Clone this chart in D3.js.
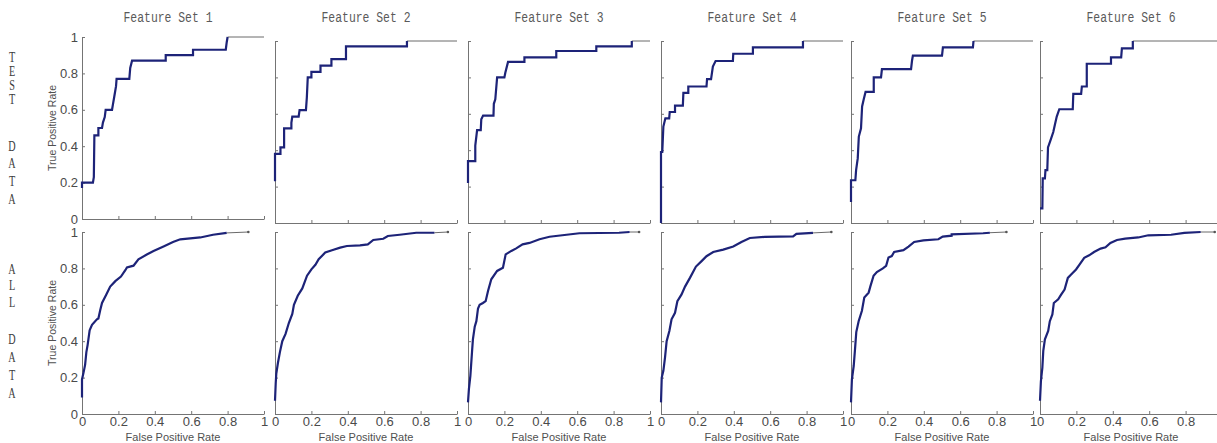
<!DOCTYPE html>
<html>
  <head>
    <title>ROC curves</title>
    <script src="https://cdn.jsdelivr.net/npm/d3@7"></script>
    <style>
      body { margin: 0; background: #fff; }
    </style>
  </head>
  <body>
    <svg width="1217" height="443" id="mainsvg"></svg>
    <script>
      // ---- data: [false positive rate, true positive rate] ----
      const titles = ['Feature Set 1', 'Feature Set 2', 'Feature Set 3', 'Feature Set 4', 'Feature Set 5', 'Feature Set 6'];
      const tickValues = [0, 0.2, 0.4, 0.6, 0.8, 1];
      const rowWords = [['TEST', 'DATA'], ['ALL', 'DATA']];

      const test1 = [[0,0.17],[0,0.2],[0.06,0.2],[0.065,0.23],[0.068,0.46],[0.09,0.46],[0.09,0.5],[0.11,0.5],[0.115,0.53],[0.125,0.56],[0.13,0.6],[0.165,0.6],[0.17,0.63],[0.177,0.67],[0.187,0.73],[0.19,0.77],[0.26,0.77],[0.265,0.83],[0.275,0.87],[0.46,0.87],[0.46,0.9],[0.61,0.9],[0.61,0.93],[0.79,0.93],[0.795,0.97],[0.8,1],[1,1]];
      const test2 = [[0,0.23],[0,0.38],[0.03,0.38],[0.03,0.415],[0.05,0.415],[0.05,0.52],[0.09,0.52],[0.09,0.55],[0.095,0.585],[0.13,0.585],[0.135,0.62],[0.17,0.62],[0.175,0.69],[0.18,0.8],[0.2,0.8],[0.2,0.83],[0.25,0.83],[0.25,0.865],[0.31,0.865],[0.31,0.9],[0.39,0.9],[0.39,0.97],[0.725,0.97],[0.725,1],[1,1]];
      const test3 = [[0,0.22],[0,0.34],[0.04,0.34],[0.04,0.425],[0.05,0.51],[0.07,0.51],[0.073,0.57],[0.083,0.59],[0.14,0.59],[0.142,0.655],[0.15,0.68],[0.16,0.8],[0.2,0.8],[0.205,0.825],[0.22,0.885],[0.31,0.885],[0.31,0.91],[0.485,0.91],[0.485,0.945],[0.705,0.945],[0.705,0.97],[0.9,0.97],[0.9,1],[1,1]];
      const test4 = [[0,0],[0,0.39],[0.007,0.39],[0.013,0.53],[0.024,0.575],[0.045,0.575],[0.048,0.61],[0.077,0.61],[0.077,0.645],[0.12,0.645],[0.123,0.715],[0.15,0.715],[0.15,0.75],[0.25,0.75],[0.253,0.79],[0.275,0.79],[0.285,0.86],[0.3,0.89],[0.395,0.89],[0.397,0.93],[0.505,0.93],[0.505,0.965],[0.78,0.965],[0.78,1],[1,1]];
      const test5 = [[0,0.116],[0,0.235],[0.024,0.235],[0.028,0.29],[0.037,0.355],[0.043,0.475],[0.055,0.52],[0.061,0.64],[0.07,0.68],[0.08,0.72],[0.125,0.72],[0.125,0.8],[0.165,0.8],[0.17,0.845],[0.33,0.845],[0.335,0.89],[0.34,0.92],[0.5,0.92],[0.505,0.965],[0.67,0.965],[0.673,1],[1,1]];
      const test6 = [[0,0.08],[0.013,0.08],[0.015,0.245],[0.027,0.245],[0.03,0.29],[0.04,0.29],[0.044,0.415],[0.058,0.455],[0.073,0.5],[0.083,0.545],[0.092,0.585],[0.106,0.625],[0.18,0.625],[0.183,0.71],[0.226,0.71],[0.23,0.75],[0.257,0.75],[0.257,0.875],[0.39,0.875],[0.39,0.91],[0.446,0.91],[0.45,0.96],[0.51,0.96],[0.51,1],[1,1]];

      const all1 = [[0,0.09],[0,0.19],[0.009,0.23],[0.017,0.27],[0.024,0.34],[0.031,0.38],[0.042,0.46],[0.055,0.49],[0.082,0.52],[0.09,0.525],[0.1,0.57],[0.11,0.61],[0.133,0.655],[0.155,0.7],[0.183,0.73],[0.214,0.755],[0.238,0.79],[0.247,0.805],[0.283,0.815],[0.31,0.85],[0.356,0.876],[0.393,0.895],[0.448,0.92],[0.5,0.945],[0.54,0.96],[0.65,0.97],[0.72,0.985],[0.795,0.995],[0.914,1]];
      const all2 = [[0,0.073],[0.004,0.17],[0.007,0.22],[0.016,0.28],[0.027,0.34],[0.04,0.4],[0.058,0.44],[0.076,0.5],[0.095,0.55],[0.104,0.6],[0.125,0.65],[0.15,0.69],[0.176,0.76],[0.2,0.795],[0.222,0.82],[0.24,0.85],[0.276,0.887],[0.313,0.9],[0.358,0.914],[0.395,0.923],[0.467,0.927],[0.51,0.932],[0.54,0.956],[0.595,0.963],[0.62,0.978],[0.685,0.985],[0.776,0.996],[0.876,0.996],[0.95,1]];
      const all3 = [[0,0.064],[0.005,0.137],[0.013,0.21],[0.022,0.34],[0.027,0.41],[0.037,0.48],[0.046,0.51],[0.055,0.58],[0.064,0.6],[0.082,0.61],[0.097,0.62],[0.11,0.676],[0.128,0.74],[0.16,0.786],[0.192,0.804],[0.207,0.877],[0.238,0.896],[0.265,0.91],[0.3,0.932],[0.338,0.94],[0.393,0.96],[0.448,0.974],[0.612,0.993],[0.83,0.996],[0.888,1],[0.94,1]];
      const all4 = [[0,0.064],[0.004,0.2],[0.013,0.237],[0.022,0.31],[0.031,0.4],[0.046,0.456],[0.058,0.52],[0.077,0.556],[0.09,0.62],[0.113,0.657],[0.132,0.7],[0.159,0.748],[0.192,0.81],[0.223,0.84],[0.25,0.867],[0.287,0.89],[0.342,0.903],[0.397,0.92],[0.442,0.945],[0.488,0.967],[0.57,0.973],[0.726,0.976],[0.744,0.99],[0.835,0.995],[0.936,1]];
      const all5 = [[0,0.064],[0.005,0.19],[0.015,0.265],[0.022,0.355],[0.029,0.45],[0.042,0.51],[0.06,0.567],[0.073,0.64],[0.097,0.667],[0.106,0.7],[0.124,0.76],[0.142,0.78],[0.175,0.8],[0.193,0.814],[0.206,0.86],[0.224,0.868],[0.237,0.89],[0.288,0.9],[0.316,0.92],[0.347,0.945],[0.398,0.954],[0.48,0.96],[0.504,0.975],[0.553,0.98],[0.553,0.987],[0.726,0.993],[0.763,0.996],[0.854,1]];
      const all6 = [[0,0.073],[0.005,0.18],[0.013,0.255],[0.018,0.347],[0.027,0.41],[0.045,0.456],[0.054,0.51],[0.068,0.547],[0.076,0.61],[0.1,0.63],[0.117,0.657],[0.135,0.684],[0.153,0.748],[0.171,0.766],[0.198,0.794],[0.216,0.82],[0.243,0.858],[0.27,0.872],[0.297,0.89],[0.333,0.909],[0.36,0.916],[0.387,0.94],[0.423,0.956],[0.468,0.964],[0.54,0.97],[0.595,0.982],[0.72,0.985],[0.793,0.995],[0.883,1],[0.96,1]];

      const testCurves = [test1, test2, test3, test4, test5, test6];
      const allCurves = [all1, all2, all3, all4, all5, all6];

      // ---- layout ----
      const svg = d3.select('#mainsvg');
      const width = +svg.attr('width');
      const size = 182;
      const panelLeft = [82, 275, 468, 661, 851, 1040];
      const topRowY = [37, 41, 41, 41, 41, 41];
      const bottomRowY = 232;
      const fmt = d3.format('~g');
      const lineColor = '#1d2378';
      const axisColor = '#747474';
      const labelFont = '"Liberation Sans", Arial, sans-serif';

      const drawPanel = function(left, top, data, showX, showY){
        const x = d3.scaleLinear().domain([0, 1]).range([0, size]);
        const y = d3.scaleLinear().domain([0, 1]).range([size, 0]);
        const g = svg.append('g').attr('transform', `translate(${left}, ${top})`);

        // a label that would fall past the picture edge is not shown (as in the original)
        const xFmt = d => (left + x(d) + 4 > width ? '' : fmt(d));
        const xAxis = d3.axisBottom(x).tickValues(tickValues).tickSize(-3).tickSizeOuter(0)
          .tickPadding(3).tickFormat(showX ? xFmt : '');
        const xg = g.append('g').attr('transform', `translate(0, ${size})`).call(xAxis);
        const yAxis = d3.axisLeft(y).tickValues(tickValues).tickSize(-3).tickSizeOuter(0)
          .tickPadding(4).tickFormat(showY ? fmt : '');
        const yg = g.append('g').call(yAxis);
        [xg, yg].forEach(a => {
          a.select('.domain').attr('stroke', axisColor);
          a.selectAll('.tick line').attr('stroke', axisColor);
          a.selectAll('text').attr('fill', '#4a4a4a')
            .style('font-family', labelFont).style('font-size', '13px');
        });

        if(showX){
          g.append('text').attr('x', size / 2).attr('y', size + 27)
            .attr('text-anchor', 'middle').attr('fill', '#505050')
            .style('font-family', labelFont).style('font-size', '11px')
            .text('False Positive Rate');
        }
        if(showY){
          g.append('text').attr('transform', `translate(-26, ${size / 2}) rotate(-90)`)
            .attr('text-anchor', 'middle').attr('fill', '#505050')
            .style('font-family', labelFont).style('font-size', '10.5px')
            .text('True Positive Rate');
        }

        const line = d3.line().x(d => x(d[0])).y(d => y(d[1]));
        // thin gray tail for the last segment, thick navy curve for the rest
        g.append('path').datum(data.slice(-2))
          .attr('fill', 'none').attr('stroke', '#6a6a6a').attr('stroke-width', 1).attr('d', line);
        g.append('path').datum(data.slice(0, -1))
          .attr('fill', 'none').attr('stroke', lineColor).attr('stroke-width', 2.2)
          .attr('stroke-linejoin', 'miter').attr('d', line);
        return {x, y, g};
      };

      testCurves.forEach((c, i) => drawPanel(panelLeft[i], topRowY[i], c, false, i === 0));
      allCurves.forEach((c, i) => {
        const p = drawPanel(panelLeft[i], bottomRowY, c, true, i === 0);
        const last = c[c.length - 1];
        p.g.append('circle').attr('cx', p.x(last[0])).attr('cy', p.y(last[1])).attr('r', 1.3).attr('fill', '#555');
      });

      // panel titles
      titles.forEach((t, i) => {
        svg.append('text').attr('x', panelLeft[i] + size / 2 - (i === 0 ? 5 : 0)).attr('y', 22)
          .attr('text-anchor', 'middle').attr('fill', '#5a5a5a')
          .attr('textLength', 89).attr('lengthAdjust', 'spacingAndGlyphs')
          .style('font-family', '"Liberation Mono", "DejaVu Sans Mono", monospace').style('font-size', '14px')
          .text(t);
      });

      // vertical row labels, one letter per line
      const wordStart = [[57, 146], [269, 339]];
      const wordStep = [[14.2, 17.7], [16.5, 18]];
      rowWords.forEach((words, r) => {
        words.forEach((w, k) => {
          w.split('').forEach((ch, j) => {
            svg.append('text')
              .attr('transform', `translate(12, ${wordStart[r][k] + j * wordStep[r][k]}) scale(0.68, 1)`)
              .attr('text-anchor', 'middle').attr('dominant-baseline', 'central').attr('fill', '#3c3c3c')
              .style('font-family', '"Liberation Serif", "DejaVu Serif", serif').style('font-size', '15px')
              .text(ch);
          });
        });
      });
    </script>
  </body>
</html>
